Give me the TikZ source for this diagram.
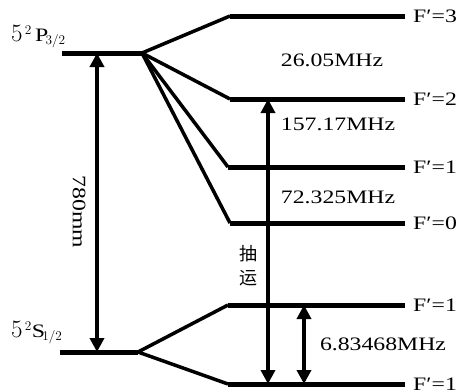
\RequirePackage{fix-cm}
\documentclass[tikz,border=0pt]{standalone}
\usepackage{fontspec}
\setmainfont{Liberation Serif}[FakeStretch=1.25]
\newfontfamily\cjk{Noto Sans CJK SC}
\usetikzlibrary{arrows.meta}

\begin{document}
\begin{tikzpicture}[x=1pt, y=-1pt,
    level/.style={line width=5pt},
    fan/.style={line width=3.5pt},
    gap/.style={line width=3.5pt, {Triangle[length=14pt,width=14pt]}-{Triangle[length=14pt,width=14pt]}},
    lbl/.style={font=\fontsize{19}{21}\selectfont, inner sep=0pt},
    term/.style={font=\fontsize{19}{21}\selectfont, inner sep=0pt, anchor=base west}]
    \useasboundingbox (0,0) rectangle (463,391);
    % 5^2 P_{3/2}
    \coordinate (P0) at (62,53);
    \coordinate (P1) at (142,53);
    \draw[level] (P0) -- (P1);
    \node[term] (Pname) at (11,41) {{\fontsize{25}{27}\selectfont$5$}$^{\,2}\,\mathrm{P}_{3/2}$};
    \foreach \n/\y/\xs in {3/16/230, 2/99/230, 1/167/228, 0/223/230} {
        \coordinate (F\n) at (\xs,\y);
        \coordinate (F\n e) at (405,\y);
        \draw[level] (F\n) -- (F\n e);
        \draw[fan] (P1) -- (F\n);
        \node[lbl, anchor=west] (lF\n) at (413,\y) {F′=\n};
    }
    % 5^2 S_{1/2}
    \coordinate (S0) at (60,352);
    \coordinate (S1) at (138,352);
    \draw[level] (S0) -- (S1);
    \node[term] (Sname) at (11,337) {{\fontsize{25}{27}\selectfont$5$}$^{\,2}\mathrm{S}_{1/2}$};
    \foreach \n/\y in {u/305, d/384} {
        \coordinate (G\n) at (228,\y);
        \coordinate (G\n e) at (405,\y);
        \draw[level] (G\n) -- (G\n e);
        \draw[fan] (S1) -- (G\n);
        \node[lbl, anchor=west] (lG\n) at (413,\y) {F′=1};
    }
    % Übergänge
    \coordinate (D2a) at (97,53);
    \coordinate (D2b) at (97,352);
    \draw[gap] (D2a) -- (D2b);
    \node[lbl, rotate=-90] (wl) at (79,212) {780mm};
    \coordinate (pa) at (268,99);
    \coordinate (pb) at (268,384);
    \draw[gap] (pa) -- (pb);
    \node[font=\cjk\fontsize{18}{24}\selectfont, align=center, inner sep=0pt] (pump) at (248,266) {抽\\运};
    \coordinate (ha) at (304,305);
    \coordinate (hb) at (304,384);
    \draw[gap] (ha) -- (hb);
    \node[lbl] (hfs) at (383,344) {6.83468MHz};
    % Abstände
    \node[lbl] (d32) at (332,60) {26.05MHz};
    \node[lbl] (d21) at (338,124) {157.17MHz};
    \node[lbl] (d10) at (338,197) {72.325MHz};
\end{tikzpicture}
\end{document}
